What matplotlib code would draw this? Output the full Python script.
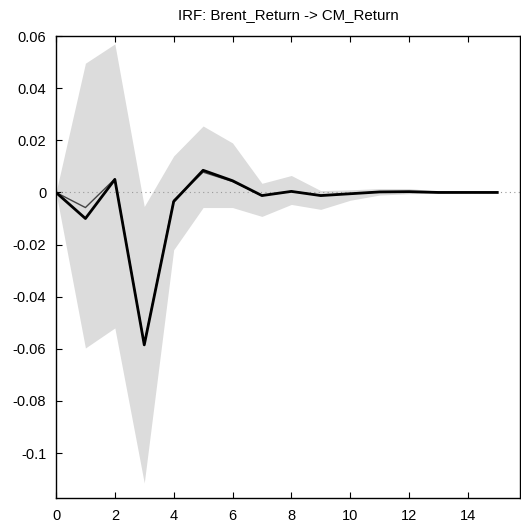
# impulse response of CM_Return to a Brent_Return shock, with bootstrap band
import numpy as np
import matplotlib.pyplot as plt

plt.rcParams['font.family'] = ['Liberation Sans', 'DejaVu Sans']

periods = list(range(16))
irf = [0.0, -0.0100, 0.0050, -0.0585, -0.0035, 0.0085, 0.0045, -0.0012,
       0.0004, -0.0012, -0.0005, 0.0002, 0.0003, 0.0, 0.0, 0.0]
irf_median = [0.0, -0.0058, 0.0052, -0.0582, -0.0030, 0.0078, 0.0042, -0.0012,
              0.0004, -0.0011, -0.0005, 0.0002, 0.0003, 0.0, 0.0, 0.0]
band_upper = [0.0, 0.0496, 0.0570, -0.0054, 0.0140, 0.0255, 0.0190, 0.0035,
              0.0065, 0.0007, 0.0010, 0.0015, 0.0015, 0.0005, 0.0002, 0.0]
band_lower = [0.0, -0.0597, -0.0520, -0.1115, -0.0220, -0.0058, -0.0058, -0.0092,
              -0.0046, -0.0065, -0.0030, -0.0010, -0.0005, -0.0003, 0.0, 0.0]

yticks = [0.06, 0.04, 0.02, 0.0, -0.02, -0.04, -0.06, -0.08, -0.1]
ytick_labels = ['0.06', '0.04', '0.02', '0', '-0.02', '-0.04', '-0.06', '-0.08', '-0.1']
xticks = [0, 2, 4, 6, 8, 10, 12, 14]

fig = plt.figure(figsize=(5.21, 5.31), dpi=100)
ax = fig.add_axes([0.1075, 0.062, 0.891, 0.870])

ax.fill_between(periods, band_lower, band_upper, color='#dcdcdc', linewidth=0)
ax.axhline(0, color='#999999', linestyle=(0, (1, 3)), linewidth=0.8)
ax.plot(periods, irf_median, color='#444444', linewidth=1.0)
ax.plot(periods, irf, color='black', linewidth=2.0)

ax.set_xlim(0, 15.78)
ax.set_ylim(-0.1173, 0.06)
ax.set_xticks(xticks)
ax.set_xticklabels([str(t) for t in xticks])
ax.set_yticks(yticks)
ax.set_yticklabels(ytick_labels)
ax.tick_params(axis='x', direction='in', top=True, length=4, labelsize=10.5, pad=8)
ax.tick_params(axis='y', direction='in', length=4, labelsize=10.5, pad=7)
for s in ax.spines.values():
    s.set_linewidth(1.0)

ax.set_title('IRF: Brent_Return -> CM_Return', fontsize=10.8, pad=12)

fig.savefig('out.png', dpi=100)
